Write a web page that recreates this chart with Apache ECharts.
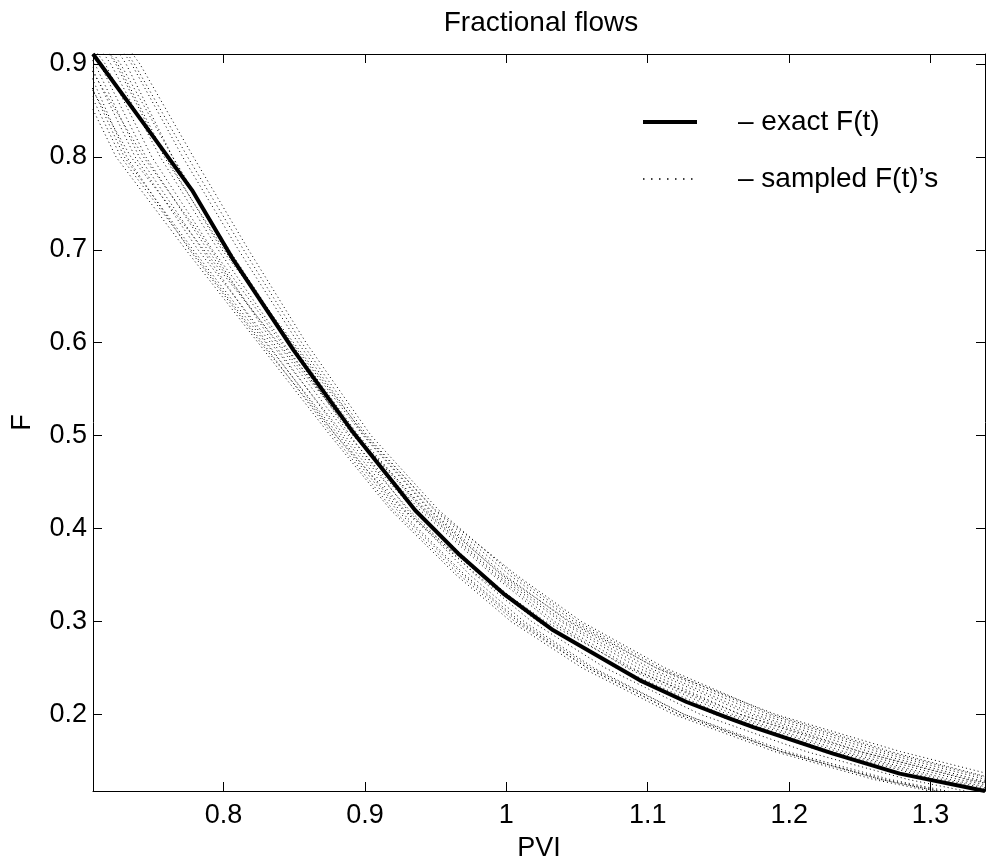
<!DOCTYPE html>
<html><head><meta charset="utf-8">
<script src="https://cdn.jsdelivr.net/npm/echarts@6/dist/echarts.min.js"></script>
<style>html,body{margin:0;padding:0;background:#fff}#c{width:986px;height:860px}</style>
</head><body><div id="c"></div>
<script>
// ---- data ----
const titleText = 'Fractional flows';
const xName = 'PVI';
const yName = 'F';
const xRange = [0.7077, 1.3385];
const yRange = [0.1175, 0.9108];
const exactName = '– exact F(t)';
const sampledName = '– sampled F(t)’s';

const exactPVI = [0.7077, 0.7435, 0.7777, 0.8071, 0.8495, 0.8905, 0.9225, 0.9355, 0.9673, 0.9979, 1.0332, 1.0945, 1.1275, 1.1581, 1.1746, 1.2311, 1.2782, 1.3385];
const exactF   = [0.9108, 0.8361, 0.7643, 0.6889, 0.5920, 0.5059, 0.4448, 0.4197, 0.3712, 0.3300, 0.2905, 0.2366, 0.2133, 0.1954, 0.1863, 0.1577, 0.1362, 0.1175];

const sampledF = [0.95, 0.90, 0.80, 0.70, 0.60, 0.50, 0.42, 0.35, 0.30, 0.25, 0.20, 0.16, 0.13, 0.10];
const sampledPVI1  = [0.6680, 0.6920, 0.7240, 0.7734, 0.8245, 0.8756, 0.9182, 0.9645, 1.0033, 1.0536, 1.1182, 1.1896, 1.2595, 1.3550];
const sampledPVI2  = [0.6754, 0.6993, 0.7298, 0.7785, 0.8298, 0.8816, 0.9244, 0.9708, 1.0098, 1.0599, 1.1258, 1.1985, 1.2711, 1.3676];
const sampledPVI3  = [0.6827, 0.7056, 0.7375, 0.7820, 0.8333, 0.8856, 0.9314, 0.9782, 1.0179, 1.0699, 1.1372, 1.2119, 1.2838, 1.3813];
const sampledPVI4  = [0.6901, 0.7125, 0.7451, 0.7887, 0.8377, 0.8884, 0.9345, 0.9841, 1.0244, 1.0775, 1.1471, 1.2234, 1.2964, 1.3949];
const sampledPVI5  = [0.6974, 0.7203, 0.7552, 0.7963, 0.8421, 0.8916, 0.9389, 0.9904, 1.0314, 1.0851, 1.1562, 1.2341, 1.3080, 1.4075];
const sampledPVI6  = [0.7048, 0.7272, 0.7640, 0.8040, 0.8474, 0.8956, 0.9420, 0.9939, 1.0384, 1.0933, 1.1653, 1.2448, 1.3196, 1.4201];
const sampledPVI7  = [0.7121, 0.7350, 0.7711, 0.8106, 0.8527, 0.8996, 0.9464, 0.9988, 1.0438, 1.1014, 1.1752, 1.2564, 1.3323, 1.4338];
const sampledPVI8  = [0.7170, 0.7409, 0.7787, 0.8177, 0.8584, 0.9044, 0.9521, 1.0051, 1.0503, 1.1090, 1.1851, 1.2679, 1.3449, 1.4474];
const sampledPVI9  = [0.6719, 0.6968, 0.7345, 0.7861, 0.8386, 0.8936, 0.9433, 0.9973, 1.0449, 1.1059, 1.1904, 1.2786, 1.3565, 1.4600];
const sampledPVI10 = [0.7097, 0.7311, 0.7640, 0.8014, 0.8452, 0.8896, 0.9301, 0.9743, 1.0125, 1.0618, 1.1258, 1.1941, 1.2644, 1.3603];
const sampledPVI11 = [0.6778, 0.7042, 0.7434, 0.7912, 0.8351, 0.8836, 0.9279, 0.9816, 1.0276, 1.0870, 1.1653, 1.2501, 1.3274, 1.4285];
const sampledPVI12 = [0.6999, 0.7252, 0.7593, 0.7989, 0.8496, 0.9004, 0.9499, 1.0071, 1.0530, 1.1122, 1.1881, 1.2715, 1.3468, 1.4495];
const sampledPVI13 = [0.6925, 0.7164, 0.7493, 0.7922, 0.8408, 0.8936, 0.9411, 0.9924, 1.0341, 1.0888, 1.1600, 1.2386, 1.3129, 1.4128];
const sampledPVI14 = [0.6729, 0.6958, 0.7274, 0.7769, 0.8276, 0.8776, 0.9200, 0.9669, 1.0060, 1.0573, 1.1220, 1.1941, 1.2644, 1.3603];
const sampledPVI15 = [0.7146, 0.7370, 0.7746, 0.8142, 0.8553, 0.9016, 0.9490, 1.0022, 1.0476, 1.1059, 1.1805, 1.2626, 1.3390, 1.4411];
const sampledPVI16 = [0.6866, 0.7091, 0.7404, 0.7851, 0.8307, 0.8796, 0.9226, 0.9694, 1.0082, 1.0573, 1.1220, 1.1941, 1.2673, 1.3634];
const sampledPVI17 = [0.7023, 0.7238, 0.7581, 0.8004, 0.8483, 0.8988, 0.9455, 0.9963, 1.0406, 1.0977, 1.1714, 1.2501, 1.3255, 1.4264];
const sampledPVI18 = [0.6803, 0.7027, 0.7316, 0.7759, 0.8263, 0.8796, 0.9270, 0.9792, 1.0222, 1.0788, 1.1524, 1.2297, 1.3032, 1.4023];
const sampledSets = [sampledPVI1, sampledPVI2, sampledPVI3, sampledPVI4, sampledPVI5, sampledPVI6,
                     sampledPVI7, sampledPVI8, sampledPVI9, sampledPVI10, sampledPVI11, sampledPVI12,
                     sampledPVI13, sampledPVI14, sampledPVI15, sampledPVI16, sampledPVI17, sampledPVI18];

// ---- chart ----
const FONT = 'Liberation Sans';
const FS = 27;
const zip = (xs, ys) => xs.map((x, i) => [x, ys[i]]);

const series = sampledSets.map(p => ({
  name: sampledName, type: 'line', data: zip(p, sampledF), symbol: 'none',
  silent: true, z: 1, color: '#000',
  itemStyle: { color: '#000' },
  lineStyle: { color: '#000', width: 1, type: [1, 3] }
}));
series.push({
  name: exactName, type: 'line', data: zip(exactPVI, exactF), symbol: 'none',
  silent: true, z: 3, color: '#000',
  itemStyle: { color: '#000' },
  lineStyle: { color: '#000', width: 4, cap: 'butt', join: 'round' }
});

const axisLine = { show: true, onZero: false, lineStyle: { color: '#000', width: 1 } };
const axisTick = { show: true, inside: true, length: 9, lineStyle: { color: '#000', width: 1 } };
const labelStyle = { fontSize: FS, color: '#000', fontFamily: FONT, showMinLabel: false, showMaxLabel: false };

const option = {
  animation: false,
  backgroundColor: '#fff',
  title: {
    text: titleText, left: 536, top: 4, textAlign: 'center',
    textStyle: { fontSize: 28, fontWeight: 'normal', color: '#000', fontFamily: FONT }
  },
  legend: {
    data: [
      { name: exactName, itemStyle: { opacity: 0 }, lineStyle: { color: '#000', width: 4, type: 'solid' } },
      { name: sampledName, itemStyle: { opacity: 0 }, lineStyle: { color: '#000', width: 1.5, type: [1.5, 6.5] } }
    ],
    orient: 'vertical', left: 641, top: 108, padding: 0,
    itemWidth: 54, itemHeight: 14, itemGap: 29, selectedMode: false,
    itemStyle: { opacity: 0 },
    textStyle: { fontSize: 28, color: '#000', fontFamily: FONT, padding: [0, 0, 0, 36] }
  },
  grid: { left: 93, right: 1, top: 54, bottom: 69, containLabel: false, outerBoundsMode: 'none' },
  xAxis: [
    { type: 'value', position: 'bottom', min: xRange[0], max: xRange[1], splitNumber: 6,
      axisLine, axisTick, splitLine: { show: false },
      axisLabel: Object.assign({ margin: 11 }, labelStyle),
      name: xName, nameLocation: 'middle', nameGap: 44,
      nameTextStyle: { fontSize: FS, color: '#000', fontFamily: FONT } },
    { type: 'value', position: 'top', min: xRange[0], max: xRange[1], splitNumber: 6,
      axisLine, axisTick, splitLine: { show: false }, axisLabel: { show: false } }
  ],
  yAxis: [
    { type: 'value', position: 'left', min: yRange[0], max: yRange[1], splitNumber: 8,
      axisLine, axisTick, splitLine: { show: false },
      axisLabel: Object.assign({ margin: 6 }, labelStyle),
      name: yName, nameLocation: 'middle', nameGap: 57, nameRotate: 90,
      nameTextStyle: { fontSize: FS, color: '#000', fontFamily: FONT } },
    { type: 'value', position: 'right', min: yRange[0], max: yRange[1], splitNumber: 8,
      axisLine, axisTick, splitLine: { show: false }, axisLabel: { show: false } }
  ],
  series
};

const chart = echarts.init(document.getElementById('c'), null, { renderer: 'canvas' });
chart.setOption(option);
</script>
</body></html>
